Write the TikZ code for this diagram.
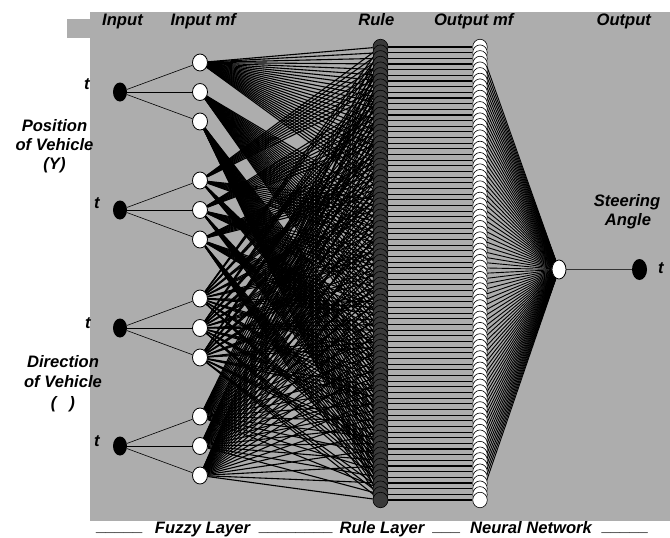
\documentclass[tikz,border=0pt]{standalone}
\usepackage{fontspec}
\setmainfont{Liberation Sans}
\usetikzlibrary{shapes.geometric}
\pgfdeclarelayer{back}
\pgfdeclarelayer{wires}
\pgfsetlayers{back,wires,main}
\definecolor{panel}{RGB}{173,173,173}
\definecolor{rulefill}{RGB}{58,58,58}

\begin{document}
\begin{tikzpicture}[x=1pt,y=-1pt,
  lab/.style={font=\fontsize{16.6}{19}\selectfont\bfseries\itshape, inner sep=0pt, anchor=base},
  invar/.style={ellipse, fill=black, minimum width=14pt, minimum height=19pt, inner sep=0pt},
  mfnode/.style={ellipse, draw=black, line width=0.8pt, fill=white, minimum width=15pt, minimum height=17pt, inner sep=0pt},
  rulenode/.style={ellipse, draw=black, line width=0.6pt, fill=rulefill, minimum width=15pt, minimum height=15.5pt, inner sep=0pt},
  omfnode/.style={ellipse, draw=black, line width=0.6pt, fill=white, minimum width=14.5pt, minimum height=15.5pt, inner sep=0pt},
  wire/.style={line width=1.1pt, black},
  outwire/.style={line width=0.9pt, black},
  link/.style={line width=1.1pt, black},
]
\useasboundingbox (0,0) rectangle (670,538);

% grey panel
\begin{pgfonlayer}{back}
  \fill[panel] (90,12) rectangle (670,521);
  \fill[panel] (67,19) rectangle (90,38);
\end{pgfonlayer}

% input variables and their membership functions
\foreach \i/\y in {1/92,2/210,3/328,4/446} {
  \node[invar] (in\i) at (120,\y) {};
  \foreach \j/\d in {1/-29.5,2/0,3/29.5} {
    \pgfmathsetmacro\my{\y+\d}
    \node[mfnode] (mf\i\j) at (200,\my) {};
  }
}

% rule layer and output membership functions
\foreach \r in {0,...,80} {
  \pgfmathsetmacro\ry{47+5.6625*\r}
  \node[rulenode] (r\r) at (380.5,\ry) {};
}
\foreach \r in {0,...,80} {
  \pgfmathsetmacro\ry{47+5.6625*\r}
  \node[omfnode] (o\r) at (480,\ry) {};
}

% output
\node[mfnode, minimum width=14pt, minimum height=19pt] (sum) at (559,269.5) {};
\node[invar, minimum width=15pt, minimum height=21pt] (steer) at (639.5,269.5) {};

% connections
\begin{pgfonlayer}{wires}
  \foreach \i in {1,...,4} {
    \foreach \j in {1,2,3} \draw[line width=0.6pt] (in\i) -- (mf\i\j);
  }
  \foreach \r in {0,...,80} {
    \pgfmathtruncatemacro\ka{int(\r/27)+1}
    \pgfmathtruncatemacro\kb{mod(int(\r/9),3)+1}
    \pgfmathtruncatemacro\kc{mod(int(\r/3),3)+1}
    \pgfmathtruncatemacro\kd{mod(\r,3)+1}
    \draw[wire] (mf1\ka) -- (r\r);
    \draw[wire] (mf2\kb) -- (r\r);
    \draw[wire] (mf3\kc) -- (r\r);
    \draw[wire] (mf4\kd) -- (r\r);
    \draw[link] (r\r) -- (o\r);
    \draw[outwire] (o\r) -- (sum);
  }
  \draw[line width=0.8pt, black!80] (sum) -- (steer);
\end{pgfonlayer}

% column headings
\node[lab] (hIn)   at (122.5,25.5) {Input};
\node[lab] (hMf)   at (203.3,25.5) {Input mf};
\node[lab] (hRule) at (376.3,25.5) {Rule};
\node[lab] (hOmf)  at (473.7,25.5) {Output mf};
\node[lab] (hOut)  at (623.8,25.5) {Output};

% variable names
\node[lab] (t1) at (87,89) {t};
\node[lab] (t2) at (97,208) {t};
\node[lab] (t3) at (88,328) {t};
\node[lab] (t4) at (97,446) {t};
\node[lab] (t5) at (661,273) {t};

\node[lab] (pos1) at (54.5,131) {Position};
\node[lab] (pos2) at (54.5,150) {of Vehicle};
\node[lab] (pos3) at (54.5,169) {(Y)};

\node[lab] (dir1) at (63,367) {Direction};
\node[lab] (dir2) at (63,387) {of Vehicle};
\node[lab] (dir3) at (63,408) {(\hspace*{13pt})};

\node[lab] (st1) at (627,206) {Steering};
\node[lab] (st2) at (628,225) {Angle};

% layer captions
\node[lab] (u1) at (120,531) {\_\_\_\_\_};
\node[lab] (c1) at (202.5,533) {Fuzzy Layer};
\node[lab] (u2) at (296.5,531) {\_\_\_\_\_\_\_\_};
\node[lab] (c2) at (382,533) {Rule Layer};
\node[lab] (u3) at (447,531) {\_\_\_};
\node[lab] (c3) at (531,533) {Neural Network};
\node[lab] (u4) at (625.5,531) {\_\_\_\_\_};
\end{tikzpicture}
\end{document}
